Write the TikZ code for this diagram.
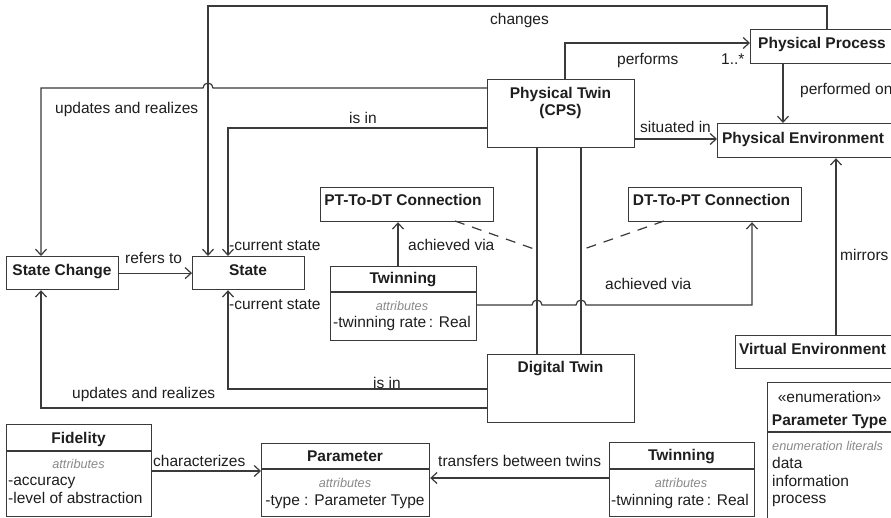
\documentclass[tikz,border=0pt]{standalone}
\usepackage{fontspec}
\setmainfont{Liberation Sans}
\usetikzlibrary{arrows.meta,calc}
\definecolor{lc}{HTML}{3A3A3A}
\definecolor{tc}{HTML}{1E1E1E}
\definecolor{gc}{HTML}{8A8A8A}
\begin{document}
\begin{tikzpicture}[x=1pt,y=-1pt,
 box/.style={draw=lc, line width=1.2pt, fill=white, inner sep=0pt, anchor=north west},
 bt/.style={font=\bfseries\fontsize{15.5}{18}\selectfont, text=tc, inner sep=0pt, anchor=base},
 tx/.style={font=\fontsize{15.5}{18}\selectfont, text=tc, inner sep=0pt, anchor=base},
 lb/.style={font=\fontsize{15.5}{18}\selectfont, text=tc, inner sep=0pt, anchor=base west},
 attr/.style={font=\itshape\fontsize{12.7}{15}\selectfont, text=gc, inner sep=0pt, anchor=base},
 ar/.style={draw=lc, line width=1.2pt, -{Straight Barb[length=6pt,width=11pt]}},
 ln/.style={draw=lc, line width=1.2pt},
 dsh/.style={draw=lc, line width=1.2pt, dash pattern=on 10pt off 8pt}]
\useasboundingbox[fill=white] (0,0) rectangle (891,517);

% boxes
\node[box, minimum width=144pt, minimum height=34pt] (pp) at (750,29) {};
\node[box, minimum width=179pt, minimum height=34pt] (pe) at (717,123) {};
\node[box, minimum width=147pt, minimum height=68pt] (pt) at (487,79) {};
\node[box, minimum width=147pt, minimum height=68pt] (dt) at (487,354) {};
\node[box, minimum width=112pt, minimum height=33pt] (sc) at (6,256) {};
\node[box, minimum width=112pt, minimum height=33pt] (st) at (192,256) {};
\node[box, minimum width=173pt, minimum height=34pt] (p2d) at (320,187) {};
\node[box, minimum width=173pt, minimum height=34pt] (d2p) at (628,187) {};
\node[box, minimum width=146pt, minimum height=74pt] (tw1) at (330,266) {};
\node[box, minimum width=161pt, minimum height=33pt] (ve) at (735,335) {};
\node[box, minimum width=145pt, minimum height=92pt] (fid) at (6,424) {};
\node[box, minimum width=168pt, minimum height=73pt] (par) at (261,443) {};
\node[box, minimum width=145pt, minimum height=74pt] (tw2) at (609,442) {};
\node[box, minimum width=129pt, minimum height=140pt] (ptype) at (767,382) {};

% compartment dividers
\draw[ln] ($(tw1.north west)+(0,26)$) -- ($(tw1.north east)+(0,26)$);
\draw[ln] ($(fid.north west)+(0,27)$) -- ($(fid.north east)+(0,27)$);
\draw[ln] ($(par.north west)+(0,26)$) -- ($(par.north east)+(0,26)$);
\draw[ln] ($(tw2.north west)+(0,27)$) -- ($(tw2.north east)+(0,27)$);
\draw[ln] ($(ptype.north west)+(0,50)$) -- ($(ptype.north east)+(0,50)$);

% box texts
\node[bt] (ppt) at (822,48) {Physical Process};
\node[bt] (pet) at (803,143) {Physical Environment};
\node[bt] (ptt1) at (560.5,98) {Physical Twin};
\node[bt] (ptt2) at (560.5,115) {(CPS)};
\node[bt] (dtt) at (560.5,372) {Digital Twin};
\node[bt] (sct) at (62,275) {State Change};
\node[bt] (stt) at (248,275) {State};
\node[bt] (p2dt) at (403,205) {PT-To-DT Connection};
\node[bt] (d2pt) at (711.5,205) {DT-To-PT Connection};
\node[bt] (vet) at (812.5,354) {Virtual Environment};

\node[bt] (tw1a) at (403,283) {Twinning};
\node[attr] (tw1b) at (402,310) {attributes};
\node[tx] (tw1c) at (402,327) {-twinning rate\,: Real};

\node[bt] (fida) at (78.5,443) {Fidelity};
\node[attr] (fidb) at (78.5,468) {attributes};
\node[lb] (fidc) at (8,485.5) {-accuracy};
\node[lb] (fidd) at (8,503) {-level of abstraction};

\node[bt] (para) at (345,461) {Parameter};
\node[attr] (parb) at (345,487) {attributes};
\node[tx] (parc) at (345,505) {-type : Parameter Type};

\node[bt] (tw2a) at (681.5,460) {Twinning};
\node[attr] (tw2b) at (681,487) {attributes};
\node[tx] (tw2c) at (680,505) {-twinning rate\,: Real};

\node[tx] (pta) at (829.5,402) {«enumeration»};
\node[bt] (ptb) at (829.5,425) {Parameter Type};
\node[attr, anchor=base west] (ptc) at (772,450) {enumeration literals};
\node[lb] (ptd) at (772,468) {data};
\node[lb] (pte) at (772,486) {information};
\node[lb] (ptf) at (772,503) {process};

% coordinates
\coordinate (chg1) at (827,6);
\coordinate (chg2) at (208,6);
\coordinate (u1) at (41,88);
\coordinate (h1) at (213,88);
\coordinate (i1) at (228,128);
\coordinate (pf) at (565,43);
\coordinate (po) at (783,0);
\coordinate (si) at (0,139);
\coordinate (mx) at (836,0);
\coordinate (v1) at (537,0);
\coordinate (v2) at (581,0);
\coordinate (a1) at (398,0);
\coordinate (a2) at (752,305);
\coordinate (i2) at (228,389);
\coordinate (u2) at (41,408);
\coordinate (ch) at (0,471);
\coordinate (tr) at (0,478);
\coordinate (d1s) at (455,221);
\coordinate (d1e) at (537,250);
\coordinate (d2s) at (664,221);
\coordinate (d2e) at (581,250);

% connectors
\draw[ar] (pp.north -| chg1) -- (chg1) -- (chg2) -- (chg2 |- st.north);
\draw[ar] (pt.west |- u1) -- (h1) arc[start angle=0, end angle=180, radius=5pt] -- (u1) -- (u1 |- sc.north);
\draw[ar] (pt.west |- i1) -- (i1) -- (i1 |- st.north);
\draw[ar] (pt.north -| pf) -- (pf) -- (pf -| pp.west);
\draw[ar] (pp.south -| po) -- (po |- pe.north);
\draw[ar] (pt.east |- si) -- (pe.west |- si);
\draw[ar] (ve.north -| mx) -- (mx |- pe.south);
\draw[ar] (sc.east) -- (st.west);
\draw[ln] (pt.south -| v1) -- (dt.north -| v1);
\draw[ln] (pt.south -| v2) -- (dt.north -| v2);
\draw[dsh] (d1s) -- (d1e);
\draw[dsh] (d2s) -- (d2e);
\draw[ar] (tw1.north -| a1) -- (a1 |- p2d.south);
\draw[ar] (tw1.east |- a2) -- ($(v1 |- a2)+(-5,0)$) arc[start angle=180, end angle=0, radius=5pt]
  -- ($(v2 |- a2)+(-5,0)$) arc[start angle=180, end angle=0, radius=5pt] -- (a2) -- (a2 |- d2p.south);
\draw[ar] (dt.west |- i2) -- (i2) -- (i2 |- st.south);
\draw[ar] (dt.west |- u2) -- (u2) -- (u2 |- sc.south);
\draw[ar] (fid.east |- ch) -- (par.west |- ch);
\draw[ar] (tw2.west |- tr) -- (par.east |- tr);

% labels
\node[lb] (l1) at (490,24) {changes};
\node[lb] (l2) at (55,113) {updates and realizes};
\node[lb] (l3) at (349,123) {is in};
\node[lb] (l4) at (617,64) {performs};
\node[lb] (l5) at (721,64) {1..*};
\node[lb] (l6) at (800,94) {performed on};
\node[lb] (l7) at (640,132) {situated in};
\node[lb] (l8) at (408,250) {achieved via};
\node[lb] (l9) at (605,289) {achieved via};
\node[lb] (l10) at (229,250) {-current state};
\node[lb] (l11) at (229,309) {-current state};
\node[lb] (l12) at (125,263) {refers to};
\node[lb] (l13) at (840,260) {mirrors};
\node[lb] (l14) at (72,398) {updates and realizes};
\node[lb] (l15) at (373,388) {is in};
\node[lb] (l16) at (153,466) {characterizes};
\node[lb] (l17) at (438,466) {transfers between twins};
\end{tikzpicture}
\end{document}
